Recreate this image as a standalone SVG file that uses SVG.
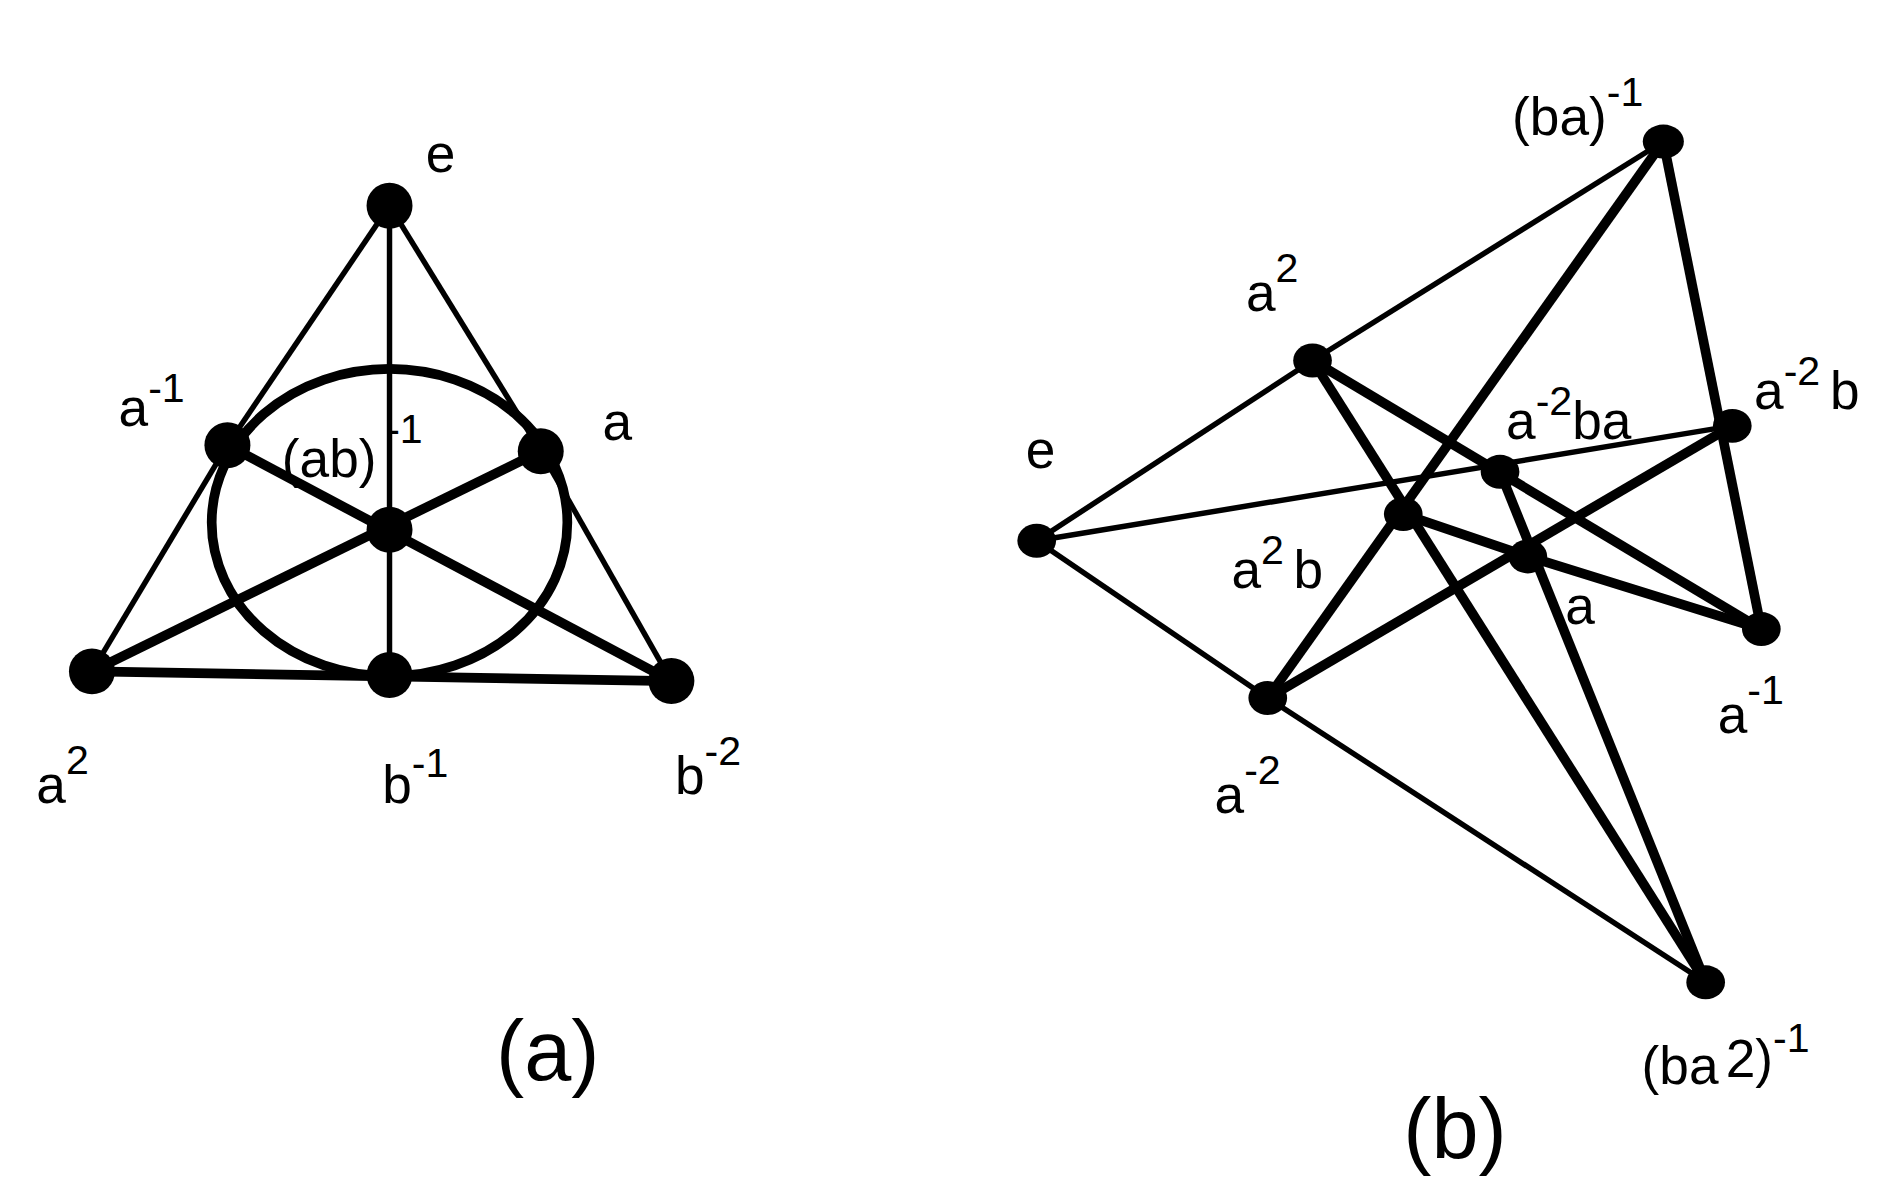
<svg xmlns="http://www.w3.org/2000/svg" width="1887" height="1203" viewBox="0 0 1887 1203">
<style>
.t{font-family:"Liberation Sans",Arial,sans-serif;font-size:44px;fill:#000}
.s{font-size:34px}
.thin{stroke:#000;stroke-width:4.5;fill:none}
.thick{stroke:#000;stroke-width:8;fill:none}
.n{fill:#000}
</style>
<rect width="1887" height="1203" fill="#fff"/>
<g transform="scale(1.2097)">
<g id="connectors">
<line class="thin" x1="322" y1="170" x2="188" y2="368"/>
<line class="thin" x1="322" y1="170" x2="447" y2="373"/>
<line class="thin" x1="322" y1="170" x2="322" y2="558"/>
<line class="thin" x1="188" y1="368" x2="76" y2="555"/>
<line class="thin" x1="447" y1="373" x2="555" y2="563"/>
<line class="thick" x1="188" y1="368" x2="555" y2="563"/>
<line class="thick" x1="447" y1="373" x2="76" y2="555"/>
<line class="thick" x1="76" y1="555" x2="555" y2="563"/>
<ellipse class="thick" cx="322" cy="432" rx="147" ry="127"/>
<line class="thin" x1="1375" y1="117" x2="1085" y2="298"/>
<line class="thin" x1="1085" y1="298" x2="857" y2="447"/>
<line class="thin" x1="857" y1="447" x2="1432" y2="352"/>
<line class="thin" x1="857" y1="447" x2="1048" y2="577"/>
<line class="thin" x1="1048" y1="577" x2="1410" y2="812"/>
<line class="thick" x1="1375" y1="117" x2="1456" y2="520"/>
<line class="thick" x1="1375" y1="117" x2="1048" y2="577"/>
<line class="thick" x1="1085" y1="298" x2="1456" y2="520"/>
<line class="thick" x1="1085" y1="298" x2="1410" y2="812"/>
<line class="thick" x1="1048" y1="577" x2="1432" y2="352"/>
<polyline class="thick" points="1160,425 1263,460 1456,520"/>
<line class="thick" x1="1240" y1="390" x2="1410" y2="812"/>
</g>
<g id="a-e"><circle class="n" cx="322" cy="170" r="19"/><text class="t" x="352" y="142">e</text></g>
<g id="a-ainv"><circle class="n" cx="188" cy="368" r="19"/><text class="t" x="98" y="352">a<tspan class="s" dy="-20">-1</tspan></text></g>
<g id="a-a"><circle class="n" cx="447" cy="373" r="19"/><text class="t" x="498" y="364">a</text></g>
<g id="a-abinv"><circle class="n" cx="322" cy="438" r="19"/><text class="t" x="233" y="394">(ab)<tspan class="s" dx="8" dy="-28">-1</tspan></text></g>
<g id="a-a2"><circle class="n" cx="76" cy="555" r="19"/><text class="t" x="30" y="664">a<tspan class="s" dy="-24">2</tspan></text></g>
<g id="a-binv"><circle class="n" cx="322" cy="558" r="19"/><text class="t" x="316" y="664">b<tspan class="s" dy="-22">-1</tspan></text></g>
<g id="a-b2"><circle class="n" cx="555" cy="563" r="19"/><text class="t" x="558" y="656">b<tspan class="s" dy="-24">-2</tspan></text></g>
<text class="t" x="410" y="893" style="font-size:70px">(a)</text>
<g id="b-bainv"><ellipse class="n" cx="1375" cy="117" rx="17" ry="14"/><text class="t" x="1250" y="112">(ba)<tspan class="s" dy="-24">-1</tspan></text></g>
<g id="b-a2"><ellipse class="n" cx="1085" cy="298" rx="16" ry="14"/><text class="t" x="1030" y="257">a<tspan class="s" dy="-24">2</tspan></text></g>
<g id="b-e"><ellipse class="n" cx="857" cy="447" rx="16" ry="14"/><text class="t" x="848" y="387">e</text></g>
<g id="b-a2ba"><ellipse class="n" cx="1240" cy="390" rx="16" ry="14"/><text class="t" x="1245" y="363">a<tspan class="s" dy="-20">-2</tspan><tspan dy="20">ba</tspan></text></g>
<g id="b-a2b"><ellipse class="n" cx="1432" cy="352" rx="16" ry="14"/><text class="t" x="1450" y="338">a<tspan class="s" dy="-20">-2</tspan><tspan dx="8" dy="20">b</tspan></text></g>
<g id="b-a2b2"><ellipse class="n" cx="1160" cy="425" rx="16" ry="14"/><text class="t" x="1018" y="486">a<tspan class="s" dy="-20">2</tspan><tspan dx="8" dy="20">b</tspan></text></g>
<g id="b-a"><ellipse class="n" cx="1263" cy="460" rx="16" ry="14"/><text class="t" x="1294" y="516">a</text></g>
<g id="b-ainv"><ellipse class="n" cx="1456" cy="520" rx="16" ry="14"/><text class="t" x="1420" y="606">a<tspan class="s" dy="-24">-1</tspan></text></g>
<g id="b-am2"><ellipse class="n" cx="1048" cy="577" rx="16" ry="14"/><text class="t" x="1004" y="672">a<tspan class="s" dy="-24">-2</tspan></text></g>
<g id="b-ba2inv"><ellipse class="n" cx="1410" cy="812" rx="16" ry="14"/><text class="t" x="1357" y="896">(ba<tspan dx="6" dy="-6">2)</tspan><tspan class="s" dy="-20">-1</tspan></text></g>
<text class="t" x="1160" y="957" style="font-size:70px">(b)</text>
</g>
</svg>
